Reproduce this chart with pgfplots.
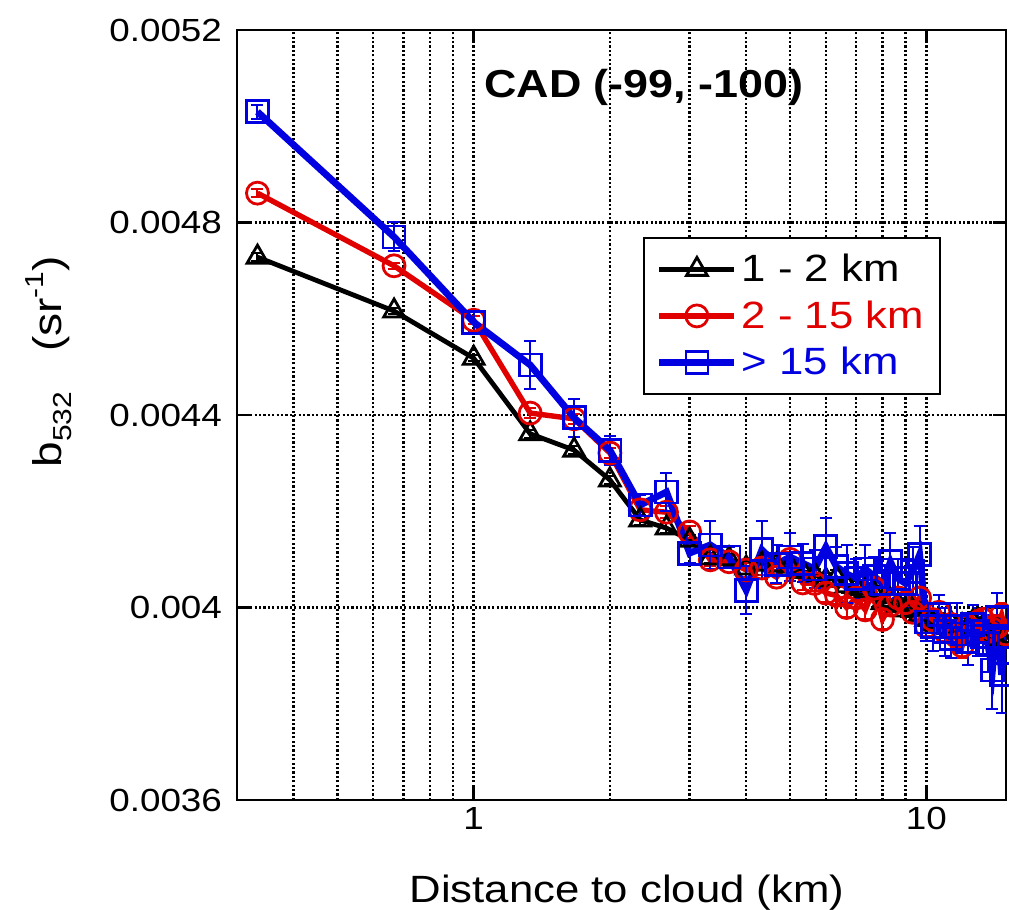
\documentclass[border=0pt]{standalone}
\usepackage{fontspec}
\setmainfont{Liberation Sans}[FakeStretch=1.15]
\usepackage{pgfplots}
\pgfplotsset{compat=1.18}
\usepackage{pgfplotstable}
\definecolor{cred}{RGB}{225,0,0}
\definecolor{cblue}{RGB}{0,0,225}

\pgfplotstableread{
x y e
0.333 0.004728 0.000008
0.667 0.004616 0.000006
1 0.004518 0.000006
1.333 0.004361 0.000008
1.667 0.004327 0.000008
2 0.004265 0.000008
2.333 0.004182 0.00001
2.667 0.004165 0.00001
3 0.004140 0.00001
3.333 0.004103 0.00001
3.667 0.004101 0.00001
4 0.004082 0.000012
4.333 0.004090 0.000012
4.667 0.004088 0.000012
5 0.004086 0.000012
5.333 0.004075 0.000012
5.667 0.004068 0.000012
6 0.004057 0.000015
6.333 0.004062 0.000015
6.667 0.004045 0.000015
7 0.004040 0.000015
7.333 0.004035 0.000015
7.667 0.004030 0.000015
8 0.004010 0.000015
8.333 0.004015 0.000015
8.667 0.004005 0.000015
9 0.003995 0.000015
9.333 0.004000 0.000015
9.667 0.003985 0.000018
10 0.003975 0.000018
10.333 0.003965 0.000018
10.667 0.003970 0.000018
11 0.003960 0.000018
11.333 0.003968 0.000018
11.667 0.003955 0.00002
12 0.003962 0.00002
12.333 0.003958 0.00002
12.667 0.003970 0.00002
13 0.003975 0.00002
13.333 0.003960 0.00002
13.667 0.003950 0.00002
14 0.003945 0.00002
14.333 0.003955 0.00002
14.667 0.003935 0.00002
15 0.003940 0.00002
}\blackdata

\pgfplotstableread{
x y e
0.333 0.004861 0.000008
0.667 0.004710 0.000006
1 0.004597 0.000008
1.333 0.004404 0.00001
1.667 0.004392 0.00001
2 0.004321 0.00001
2.333 0.004203 0.000012
2.667 0.004198 0.000012
3 0.004157 0.000012
3.333 0.004099 0.000012
3.667 0.004095 0.000012
4 0.004078 0.000015
4.333 0.004082 0.000015
4.667 0.004063 0.000015
5 0.004100 0.000015
5.333 0.004051 0.000015
5.667 0.004050 0.000015
6 0.004030 0.000018
6.333 0.004025 0.000018
6.667 0.004000 0.00002
7 0.004020 0.000018
7.333 0.003995 0.000018
7.667 0.004040 0.000018
8 0.003975 0.00002
8.333 0.004005 0.00002
8.667 0.004020 0.00002
9 0.004010 0.00002
9.333 0.003990 0.00002
9.667 0.004020 0.00002
10 0.003960 0.00002
10.333 0.003975 0.00002
10.667 0.003990 0.00002
11 0.003950 0.00002
11.333 0.003965 0.00002
11.667 0.003940 0.00002
12 0.003920 0.000025
12.333 0.003960 0.000025
12.667 0.003945 0.000025
13 0.003970 0.000025
13.333 0.003975 0.000025
13.667 0.003950 0.000025
14 0.003955 0.000025
14.333 0.003960 0.000025
14.667 0.003985 0.000025
15 0.003945 0.000025
}\reddata

\pgfplotstableread{
x y e
0.333 0.005030 0.000015
0.667 0.004770 0.00003
1 0.004593 0.00002
1.333 0.004504 0.00005
1.667 0.004394 0.00004
2 0.004327 0.00003
2.333 0.004213 0.00002
2.667 0.004240 0.00004
3 0.004113 0.00002
3.333 0.004130 0.00005
3.667 0.004105 0.00002
4 0.004036 0.00005
4.333 0.004120 0.00006
4.667 0.004090 0.00004
5 0.004105 0.00005
5.333 0.004092 0.00004
5.667 0.004080 0.00004
6 0.004126 0.00006
6.333 0.004085 0.00004
6.667 0.004070 0.00006
7 0.004060 0.00004
7.333 0.004080 0.00005
7.667 0.004065 0.00004
8 0.004050 0.00005
8.333 0.004095 0.00006
8.667 0.004060 0.00004
9 0.004050 0.00005
9.333 0.004075 0.00005
9.667 0.004110 0.00006
10 0.003970 0.00004
10.333 0.003960 0.00005
10.667 0.003985 0.00004
11 0.003950 0.00005
11.333 0.003935 0.00004
11.667 0.003960 0.00005
12 0.003945 0.00004
12.333 0.003930 0.00005
12.667 0.003965 0.00004
13 0.003950 0.00005
13.333 0.003940 0.00004
13.667 0.003925 0.00006
14 0.003870 0.00008
14.333 0.003980 0.00005
14.667 0.003860 0.00008
15 0.003940 0.00006
}\bluedata

\begin{document}
\begin{tikzpicture}
\begin{axis}[
  scale only axis, width=384.5pt, height=385pt,
  xmode=log, xmin=0.3, xmax=15, ymin=0.0036, ymax=0.0052,
  scaled y ticks=false,
  xtick={1,10}, xticklabels={1,10},
  minor xtick={0.4,0.5,0.6,0.7,0.8,0.9,2,3,4,5,6,7,8,9},
  ytick={0.0036,0.004,0.0044,0.0048,0.0052},
  yticklabels={0.0036,0.004,0.0044,0.0048,0.0052},
  tick align=inside, major tick length=6.5pt, minor tick length=0pt,
  grid=both,
  major grid style={black, dash pattern=on 1.1pt off 1.1pt, line width=1.2pt},
  minor grid style={black, dash pattern=on 1.1pt off 1.1pt, line width=1.2pt},
  axis line style={line width=1.3pt},
  every tick/.style={black, line width=1.3pt},
  xticklabel style={font=\fontsize{16}{16}\selectfont},
  yticklabel style={font=\fontsize{16}{16}\selectfont, xshift=-4pt},
  xlabel={Distance to cloud (km)},
  xlabel style={font=\fontsize{19}{19}\selectfont, at={(axis description cs:0.507,-0.1325)}, anchor=base},
  ylabel={b\raisebox{-5pt}{\fontsize{13}{13}\selectfont 532}\hspace{20pt}(sr\raisebox{9pt}{\fontsize{13}{13}\selectfont -1})},
  ylabel style={font=\fontsize{20}{20}\selectfont, at={(axis description cs:-0.2276,0.569)}, anchor=base},
  legend style={at={(0.528,0.731)}, anchor=north west, draw=black, line width=1pt,
    font=\fontsize{19}{19}\selectfont, inner xsep=6pt, inner ysep=6pt, row sep=4pt,
    legend cell align=left},
  legend image code/.code={\draw[mark repeat=2,mark phase=2,#1] plot coordinates {(0pt,0pt) (18.75pt,0pt) (37.5pt,0pt)};},
  error bars/error bar style={line width=1pt},
  error bars/error mark options={rotate=90, mark size=3pt, line width=1pt},
]
\addplot[black, line width=2.4pt, mark=triangle, mark size=6pt, mark options={line width=1.4pt, fill=none},
  error bars/.cd, y dir=both, y explicit] table[x=x, y=y, y error=e] {\blackdata};
\addlegendentry{1 - 2 km}
\addplot[cred, line width=2.7pt, mark=o, mark size=5.5pt, mark options={line width=1.4pt, fill=none},
  error bars/.cd, y dir=both, y explicit] table[x=x, y=y, y error=e] {\reddata};
\addlegendentry{\textcolor{cred}{2 - 15 km}}
\addplot[cblue, line width=3.4pt, mark=square, mark size=5.5pt, mark options={line width=1.4pt, fill=none},
  error bars/.cd, y dir=both, y explicit] table[x=x, y=y, y error=e] {\bluedata};
\addlegendentry{\textcolor{cblue}{> 15 km}}
\node[font=\bfseries\fontsize{19.5}{19.5}\selectfont] at (axis description cs:0.529,0.925) {CAD (-99, -100)};
\end{axis}
\pgfresetboundingbox
\path ([xshift=-118.5pt,yshift=-54.5pt]current axis.south west) rectangle ([xshift=1.5pt,yshift=15pt]current axis.north east);
\end{tikzpicture}
\end{document}
